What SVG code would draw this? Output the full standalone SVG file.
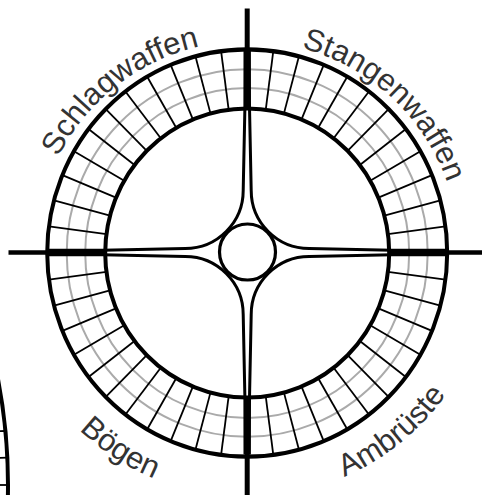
<svg xmlns="http://www.w3.org/2000/svg" xmlns:xlink="http://www.w3.org/1999/xlink" width="482" height="495" viewBox="0 0 482 495">
  <style>
    .ring { fill: none; stroke: #000; stroke-width: 4; }
    .gray { fill: none; stroke: #aaaaaa; stroke-width: 2; }
    .spoke { stroke: #000; stroke-width: 1.8; }
    .axis { stroke: #000; fill: none; }
    .road { fill: none; stroke: #000; stroke-width: 3; stroke-linejoin: round; }
    .label { font-family: "Liberation Sans", Arial, sans-serif; font-size: 31px; fill: #333; }
  </style>
  <defs>
    <g id="spokes-q">
      <line class="spoke" x1="140.78" y1="18.54" x2="198.29" y2="26.11"/>
      <line class="spoke" x1="137.16" y1="36.75" x2="193.19" y2="51.76"/>
      <line class="spoke" x1="131.19" y1="54.34" x2="184.78" y2="76.54"/>
      <line class="spoke" x1="122.98" y1="71" x2="173.21" y2="100"/>
      <line class="spoke" x1="112.66" y1="86.44" x2="158.67" y2="121.75"/>
      <line class="spoke" x1="100.41" y1="100.41" x2="141.42" y2="141.42"/>
      <line class="spoke" x1="86.44" y1="112.66" x2="121.75" y2="158.67"/>
      <line class="spoke" x1="71" y1="122.98" x2="100" y2="173.21"/>
      <line class="spoke" x1="54.34" y1="131.19" x2="76.54" y2="184.78"/>
      <line class="spoke" x1="36.75" y1="137.16" x2="51.76" y2="193.19"/>
      <line class="spoke" x1="18.54" y1="140.78" x2="26.11" y2="198.29"/>
    </g>
    <path id="p-schlag" d="M60.01,352.53 A212,212 0 0 1 389.06,95.45"/>
    <path id="p-stangen" d="M118.73,84.36 A212,212 0 0 1 425.60,367.53"/>
    <path id="p-boegen" d="M3.53,240.23 A244,244 0 0 0 357.97,470.41"/>
    <path id="p-ambr" d="M159.76,480.79 A244,244 0 0 0 488.19,214.83"/>
  </defs>

  <!-- partial neighbouring ring at bottom-left -->
  <g id="neighbour">
    <circle class="ring" cx="-552" cy="485" r="560"/>
    <line class="spoke" x1="-3" y1="431.3" x2="5.4" y2="431"/>
    <line class="spoke" x1="-3" y1="457.9" x2="7.3" y2="457.7"/>
    <line class="spoke" x1="-3" y1="485" x2="8" y2="485"/>
  </g>

  <g id="ring" transform="translate(247.2,253) scale(1,1.018)">
    <circle class="gray" r="162"/>
    <circle class="gray" r="180.5"/>
    <use xlink:href="#spokes-q"/>
    <use xlink:href="#spokes-q" transform="rotate(90)"/>
    <use xlink:href="#spokes-q" transform="rotate(180)"/>
    <use xlink:href="#spokes-q" transform="rotate(270)"/>
    <circle class="ring" r="142"/>
    <circle class="ring" r="200"/>
  </g>

  <g id="connectors">
    <line class="axis" x1="247.2" y1="8.5" x2="247.2" y2="108" stroke-width="5"/>
    <line class="axis" x1="247.2" y1="397" x2="247.2" y2="495" stroke-width="5"/>
    <line class="axis" x1="8.5" y1="252.5" x2="105" y2="252.5" stroke-width="4.5"/>
    <line class="axis" x1="389" y1="252.5" x2="482" y2="252.5" stroke-width="4.5"/>
    <path class="road" d="M245,50.5 L244.9,107.5 L243.2,190.5 C243.2,222.5 217.2,248.5 185.2,248.5 L102.2,250.2 L47.2,250.3"/>
    <path class="road" d="M249.4,50.5 L249.5,107.5 L251.2,190.5 C251.2,222.5 277.2,248.5 309.2,248.5 L392.2,250.2 L447.2,250.3"/>
    <path class="road" d="M249.4,454.5 L249.5,397.5 L251.2,314.5 C251.2,282.5 277.2,256.5 309.2,256.5 L392.2,254.8 L447.2,254.7"/>
    <path class="road" d="M245,454.5 L244.9,397.5 L243.2,314.5 C243.2,282.5 217.2,256.5 185.2,256.5 L102.2,254.8 L47.2,254.7"/>
  </g>

  <g id="hub">
    <circle cx="247.5" cy="252" r="28" fill="#fff" stroke="#000" stroke-width="3.2"/>
  </g>

  <g id="labels">
    <text class="label" text-anchor="middle"><textPath xlink:href="#p-schlag" startOffset="50%">Schlagwaffen</textPath></text>
    <text class="label" text-anchor="middle"><textPath xlink:href="#p-stangen" startOffset="50%">Stangenwaffen</textPath></text>
    <text class="label" text-anchor="middle"><textPath xlink:href="#p-boegen" startOffset="50%">Bögen</textPath></text>
    <text class="label" text-anchor="middle"><textPath xlink:href="#p-ambr" startOffset="50%">Ambrüste</textPath></text>
  </g>
</svg>
